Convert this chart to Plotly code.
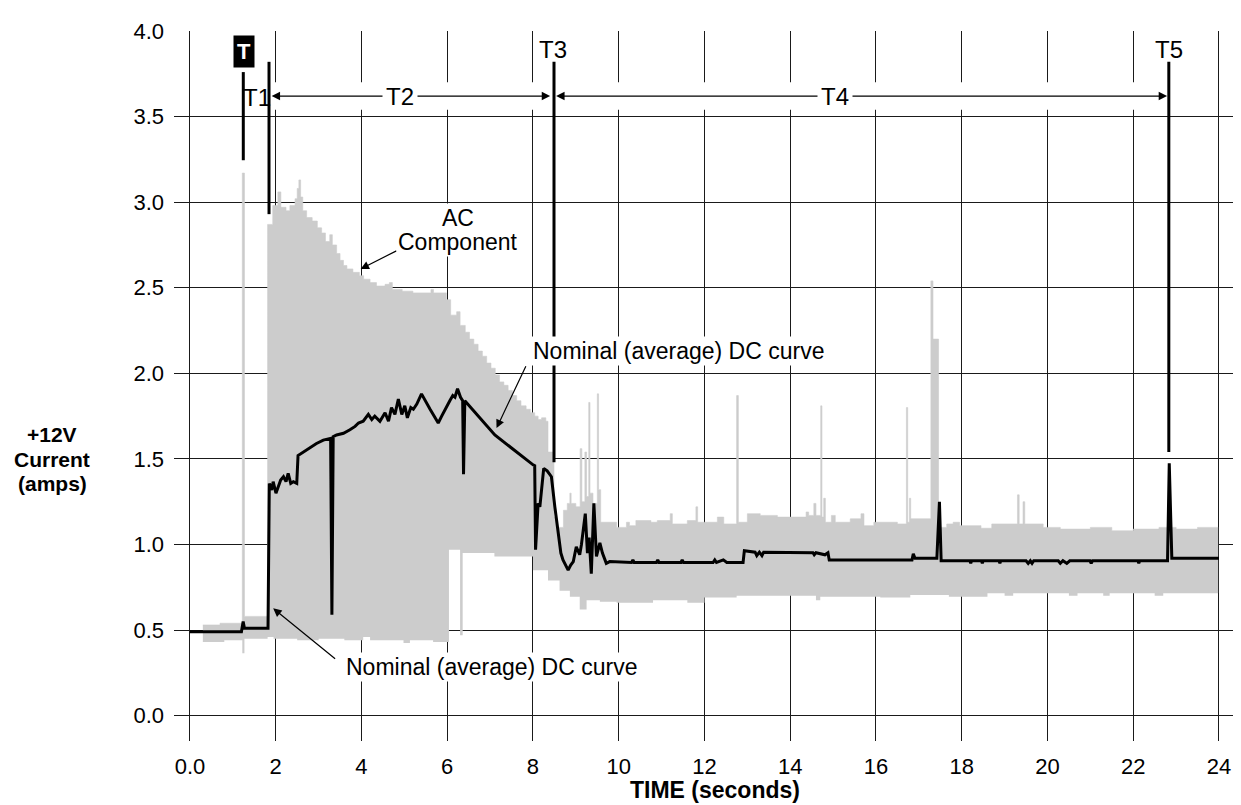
import plotly.graph_objects as go

# ---------------- data ----------------
# AC component upper envelope (step data: time s, amps)
ac_hi_t = [0.30, 0.70, 1.22, 1.27, 1.81, 1.93, 2.05, 2.12, 2.24, 2.33, 2.45, 2.50, 2.54, 2.58,
           2.63, 2.72, 2.85, 2.97, 3.07, 3.16, 3.26, 3.32, 3.42, 3.50, 3.58, 3.66, 3.80, 3.95,
           4.05, 4.20, 4.35, 4.55, 4.65, 4.72, 4.95, 5.20, 5.62, 5.68, 5.98, 6.08, 6.22, 6.30,
           6.42, 6.52, 6.62, 6.72, 6.82, 6.92, 7.02, 7.12, 7.22, 7.32, 7.42, 7.52, 7.62, 7.72,
           7.84, 7.94, 8.04, 8.12, 8.20, 8.30, 8.35, 8.49, 8.55, 8.71, 8.80, 8.86, 8.89, 9.00,
           9.10, 9.14, 9.21, 9.25, 9.30, 9.33, 9.40, 9.50, 9.53, 9.58, 9.95, 10.18, 10.25, 10.40,
           10.75, 10.90, 11.20, 11.25, 11.60, 11.80, 11.84, 12.30, 12.45, 12.75, 12.79, 13.00,
           13.30, 13.70, 14.37, 14.43, 14.55, 14.60, 14.71, 14.74, 14.78, 14.82, 14.96, 15.05,
           15.40, 15.65, 15.72, 15.95, 16.50, 16.71, 16.74, 16.78, 16.81, 17.28, 17.33, 17.46,
           17.65, 17.80, 17.95, 18.45, 18.70, 19.30, 19.34, 19.43, 19.47, 19.90, 20.30, 21.00,
           21.50, 22.00, 22.60, 23.00, 23.50, 23.98]
ac_hi_v = [0.53, 0.54, 3.17, 0.58, 2.87, 2.98, 3.06, 2.97, 2.95, 2.98, 3.02, 3.08, 3.13, 3.03,
           2.95, 2.91, 2.89, 2.85, 2.82, 2.77, 2.81, 2.75, 2.70, 2.66, 2.63, 2.61, 2.59, 2.57,
           2.55, 2.53, 2.51, 2.52, 2.53, 2.49, 2.48, 2.47, 2.49, 2.47, 2.43, 2.34, 2.36, 2.28,
           2.24, 2.20, 2.17, 2.13, 2.10, 2.06, 2.03, 1.99, 1.95, 1.93, 1.90, 1.87, 1.84, 1.81,
           1.79, 1.77, 1.75, 1.73, 1.74, 1.72, 1.54, 1.16, 1.10, 1.20, 1.24, 1.30, 1.24, 1.22,
           1.56, 1.25, 1.54, 1.28, 1.83, 1.30, 1.24, 1.88, 1.32, 1.13, 1.10, 1.13, 1.11, 1.14,
           1.13, 1.14, 1.18, 1.12, 1.14, 1.22, 1.13, 1.16, 1.12, 1.87, 1.13, 1.18,
           1.17, 1.16, 1.19, 1.17, 1.24, 1.17, 1.81, 1.16, 1.27, 1.13, 1.17, 1.13,
           1.15, 1.18, 1.11, 1.13, 1.12, 1.80, 1.13, 1.27, 1.15, 2.54, 2.20, 1.10,
           1.12, 1.13, 1.11, 1.095, 1.12, 1.29, 1.12, 1.25, 1.12, 1.10, 1.09, 1.10,
           1.08, 1.09, 1.10, 1.09, 1.10, 1.10]

# AC component lower envelope
ac_lo_t = [0.30, 0.80, 1.22, 1.27, 1.81, 1.95, 2.50, 3.00, 3.60, 4.04, 4.20, 4.98, 5.13, 5.67,
           6.04, 6.30, 6.36, 7.10, 8.00, 8.35, 8.62, 8.86, 9.09, 9.25, 9.56, 9.95, 10.8, 11.6,
           12.0, 12.75, 14.6, 14.7, 16.1, 16.8, 17.7, 18.6, 19.0, 19.2, 20.5, 20.7, 21.3, 21.45,
           22.5, 22.7, 23.98]
ac_lo_v = [0.43, 0.44, 0.365, 0.45, 0.46, 0.45, 0.44, 0.45, 0.44, 0.46, 0.44, 0.425, 0.44, 0.43,
           0.97, 0.47, 0.95, 0.93, 0.85, 0.79, 0.73, 0.695, 0.62, 0.675, 0.665, 0.66, 0.675, 0.66,
           0.69, 0.70, 0.675, 0.695, 0.69, 0.705, 0.695, 0.715, 0.70, 0.715, 0.70, 0.715, 0.70, 0.715,
           0.70, 0.715, 0.715]

# Nominal (average) DC curve
dc_t = [0.00, 1.20, 1.24, 1.27, 1.82, 1.85, 1.905, 1.94, 2.005, 2.06, 2.115, 2.18, 2.24, 2.29,
        2.35, 2.41, 2.49, 2.52, 2.64, 2.80, 2.95, 3.11, 3.28, 3.31, 3.34, 3.42, 3.58, 3.73, 3.85,
        3.93, 4.04, 4.16, 4.24, 4.31, 4.43, 4.55, 4.63, 4.70, 4.78, 4.86, 4.94, 5.01, 5.07, 5.15,
        5.21, 5.29, 5.40, 5.60, 5.79, 5.87, 5.99, 6.06, 6.13, 6.18, 6.24, 6.31, 6.36, 6.38, 6.41,
        7.11, 8.01, 8.04, 8.06, 8.12, 8.16, 8.25, 8.33, 8.43, 8.51, 8.59, 8.65, 8.70, 8.82, 8.88,
        8.94, 9.01, 9.09, 9.13, 9.22, 9.27, 9.31, 9.36, 9.42, 9.48, 9.56, 9.62, 9.71, 9.79,
        10.30, 10.33, 10.36, 10.88, 10.91, 10.94, 11.45, 11.48, 11.51, 12.20, 12.24, 12.28,
        12.44, 12.52, 12.90, 12.93, 13.18, 13.22, 13.28, 13.34, 13.38, 14.53, 14.56, 14.60,
        14.81, 14.88, 14.91, 16.84, 16.87, 16.91, 17.42, 17.48, 17.52, 18.19, 18.21, 18.23,
        18.46, 18.48, 18.50, 18.87, 18.89, 18.91, 19.50, 19.55, 19.60, 19.64, 19.68, 20.25,
        20.30, 20.36, 20.45, 20.52, 20.99, 21.02, 21.05, 22.11, 22.13, 22.15, 22.80, 22.84,
        22.90, 24.00]
dc_v = [0.49, 0.49, 0.55, 0.51, 0.51, 1.357, 1.318, 1.367, 1.30, 1.34, 1.377, 1.396, 1.367, 1.416,
        1.357, 1.367, 1.357, 1.52, 1.54, 1.57, 1.59, 1.61, 1.62, 0.59, 1.63, 1.64, 1.65, 1.67, 1.69,
        1.71, 1.72, 1.76, 1.73, 1.75, 1.72, 1.77, 1.72, 1.80, 1.76, 1.85, 1.76, 1.81, 1.74, 1.80,
        1.79, 1.82, 1.88, 1.79, 1.71, 1.75, 1.81, 1.84, 1.87, 1.86, 1.91, 1.86, 1.84, 1.41, 1.84,
        1.64, 1.464, 1.46, 0.97, 1.24, 1.22, 1.445, 1.43, 1.396, 1.22, 1.045, 0.95, 0.91, 0.85, 0.88,
        0.90, 0.987, 0.94, 1.00, 1.18, 0.95, 1.04, 0.83, 1.24, 0.93, 1.01, 0.95, 0.89, 0.90,
        0.895, 0.91, 0.895, 0.895, 0.91, 0.895, 0.895, 0.91, 0.895, 0.895, 0.91, 0.895,
        0.91, 0.895, 0.895, 0.964, 0.955, 0.935, 0.955, 0.935, 0.955, 0.952, 0.94, 0.952,
        0.94, 0.952, 0.91, 0.91, 0.945, 0.92, 0.92, 1.25, 0.905, 0.905, 0.89, 0.905,
        0.905, 0.89, 0.905, 0.905, 0.89, 0.905, 0.905, 0.89, 0.905, 0.89, 0.905, 0.905,
        0.89, 0.905, 0.89, 0.905, 0.905, 0.89, 0.905, 0.905, 0.89, 0.905, 0.905, 1.474,
        0.92, 0.92]

# timing markers
marker_names = ["T", "T1", "T3", "T5"]
marker_t = [1.243, 1.843, 8.49, 22.83]
marker_top = [3.76, 3.82, 3.82, 3.82]
marker_bottom = [3.245, 2.93, 1.48, 1.54]

# interval spans (name, start, end, label position)
span_names = ["T2", "T4"]
span_start = [1.905, 8.54]
span_end = [8.40, 22.79]
span_label_t = [4.90, 15.04]
span_level = 3.62

x_tickvals = list(range(0, 25, 2))
x_ticktext = ["0.0"] + [str(v) for v in range(2, 25, 2)]
y_tickvals = [0.0, 0.5, 1.0, 1.5, 2.0, 2.5, 3.0, 3.5, 4.0]
y_ticktext = ["0.0", "0.5", "1.0", "1.5", "2.0", "2.5", "3.0", "3.5", "4.0"]

FONT = "Liberation Sans, Arial, Helvetica, sans-serif"
GRAY = "#cccccc"

fig = go.Figure()

# AC band (filled between lower and upper envelopes)
fig.add_trace(go.Scatter(x=ac_lo_t, y=ac_lo_v, mode="lines", line=dict(width=0, color=GRAY, shape="hv"),
                         hoverinfo="skip", showlegend=False))
fig.add_trace(go.Scatter(x=ac_hi_t, y=ac_hi_v, mode="lines", line=dict(width=0.6, color=GRAY, shape="hv"),
                         fill="tonexty", fillcolor=GRAY, hoverinfo="skip", showlegend=False))

# DC curve
fig.add_trace(go.Scatter(x=dc_t, y=dc_v, mode="lines", line=dict(width=3, color="black"),
                         showlegend=False))

# marker lines
mx, my = [], []
for t, top, bot in zip(marker_t, marker_top, marker_bottom):
    mx += [t, t, None]
    my += [top, bot, None]
fig.add_trace(go.Scatter(x=mx, y=my, mode="lines", line=dict(width=3, color="black"),
                         showlegend=False, hoverinfo="skip"))

# white band interrupting gridlines behind the interval arrows
fig.add_shape(type="rect", xref="x", yref="y", x0=span_start[0] - 0.02, x1=span_end[1] + 0.0,
              y0=3.54, y1=3.70, fillcolor="white", line=dict(width=0), layer="between")

ann = []
txt_font = dict(family=FONT, size=23, color="black")

# interval arrows
for name, s, e, lt in zip(span_names, span_start, span_end, span_label_t):
    for tip in (s, e):
        ann.append(dict(x=tip, y=span_level, ax=lt, ay=span_level, xref="x", yref="y",
                        axref="x", ayref="y", text="", showarrow=True, arrowhead=2,
                        arrowsize=1.4, arrowwidth=1.2, arrowcolor="black", standoff=0,
                        startstandoff=0))
    ann.append(dict(x=lt, y=span_level, xref="x", yref="y", text=name, showarrow=False,
                    font=dict(family=FONT, size=24, color="black"), bgcolor="white", borderpad=3))

# marker labels
ann.append(dict(x=1.27, y=3.88, xref="x", yref="y", text="<b>T</b>", showarrow=False,
                font=dict(family=FONT, size=22, color="white"), bgcolor="black", borderpad=3))
ann.append(dict(x=1.555, y=3.61, xref="x", yref="y", text="T1", showarrow=False,
                font=dict(family=FONT, size=24, color="black")))
ann.append(dict(x=8.475, y=3.89, xref="x", yref="y", text="T3", showarrow=False,
                font=dict(family=FONT, size=24, color="black")))
ann.append(dict(x=22.83, y=3.89, xref="x", yref="y", text="T5", showarrow=False,
                font=dict(family=FONT, size=24, color="black")))

# callouts
callouts = [
    # text lines (t, v, text), arrow tail (t, v), arrow tip (t, v)
    ([(6.25, 2.907, "AC"), (6.25, 2.767, "Component")], (4.85, 2.72), (3.98, 2.61)),
    ([(11.39, 2.13, "Nominal (average) DC curve")], (7.85, 2.05), (7.15, 1.68)),
    ([(7.03, 0.284, "Nominal (average) DC curve")], (3.42, 0.325), (1.94, 0.627)),
]
for lines, tail, tip in callouts:
    ann.append(dict(x=tip[0], y=tip[1], ax=tail[0], ay=tail[1], xref="x", yref="y",
                    axref="x", ayref="y", text="", showarrow=True, arrowhead=2,
                    arrowsize=1.4, arrowwidth=1.2, arrowcolor="black", standoff=0,
                    startstandoff=0))
    for (t, v, s) in lines:
        ann.append(dict(x=t, y=v, xref="x", yref="y", text=s, showarrow=False,
                        font=txt_font, bgcolor="white", borderpad=1))

# axis titles
bold = dict(family=FONT, size=21, color="black")
for v, s in [(1.640, "+12V"), (1.499, "Current"), (1.358, "(amps)")]:
    ann.append(dict(x=-0.1152, y=v, xref="paper", yref="y", text="<b>%s</b>" % s,
                    showarrow=False, font=bold, xanchor="center", yanchor="middle"))
ann.append(dict(x=0.5109, y=-0.0690, xref="paper", yref="paper", text="<b>TIME (seconds)</b>",
                showarrow=False, font=dict(family=FONT, size=23, color="black"),
                xanchor="center", yanchor="middle"))

# the page body has an 8px default margin; offset the figure accordingly
fig.update_layout(
    width=1225, height=797,
    margin=dict(l=166, r=0, t=23, b=64),
    paper_bgcolor="white", plot_bgcolor="white",
    font=dict(family=FONT, size=22, color="black"),
    annotations=ann,
    showlegend=False,
)
fig.update_xaxes(range=[-0.373, 24.327], tickvals=x_tickvals, ticktext=x_ticktext,
                 showgrid=True, gridcolor="#1a1a1a", gridwidth=1.3, zeroline=False,
                 showline=False, ticks="", ticklabelstandoff=10,
                 tickfont=dict(family=FONT, size=22, color="black"))
fig.update_yaxes(range=[-0.148, 4.0], tickvals=y_tickvals, ticktext=y_ticktext,
                 showgrid=True, gridcolor="#1a1a1a", gridwidth=1.3, zeroline=False,
                 showline=False, ticks="", ticklabelstandoff=9,
                 tickfont=dict(family=FONT, size=22, color="black"))

fig.write_html("out.html")
